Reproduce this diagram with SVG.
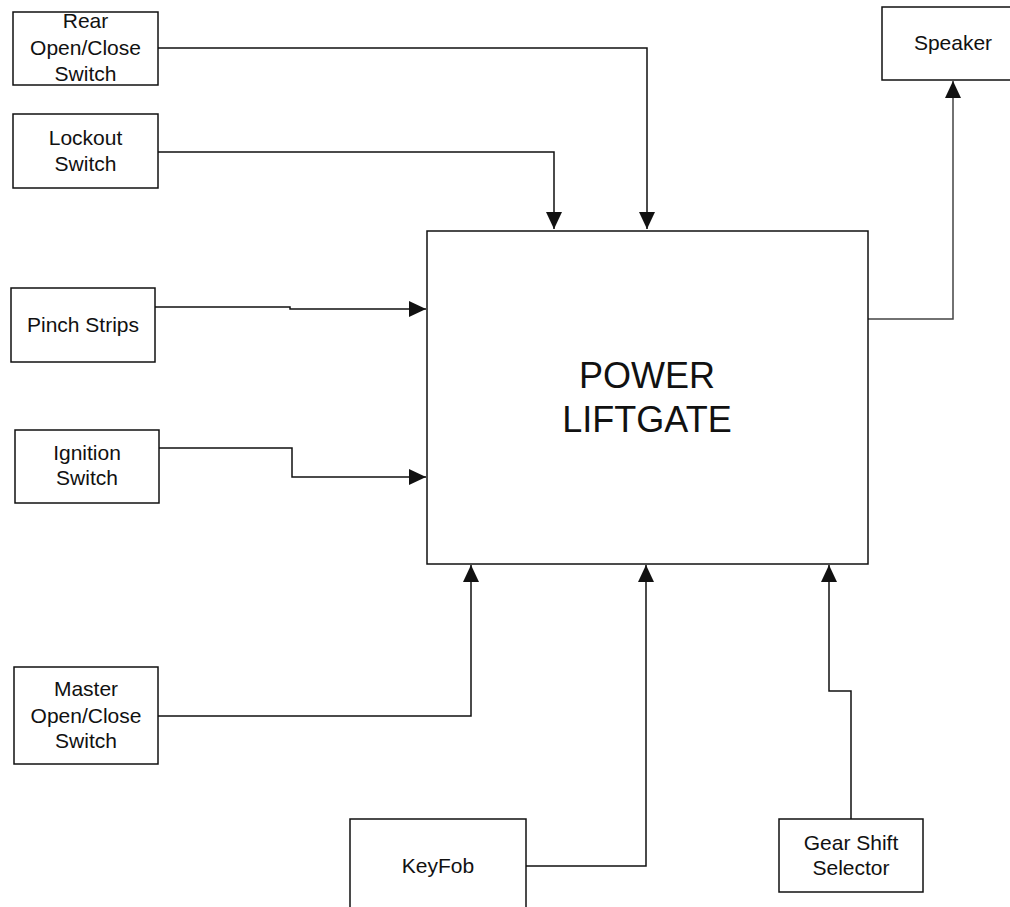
<svg xmlns="http://www.w3.org/2000/svg" width="1010" height="907" viewBox="0 0 1010 907">
<style>
.box{fill:#fff;stroke:#111;stroke-width:1.5}
.t{font-family:"Liberation Sans",Arial,sans-serif;font-size:21px;fill:#111;text-anchor:middle}
.big{font-family:"Liberation Sans",Arial,sans-serif;font-size:36px;fill:#111;text-anchor:middle}
.c{fill:none;stroke:#111;stroke-width:1.5}
</style>
<defs>
<marker id="arr" markerUnits="userSpaceOnUse" markerWidth="18" markerHeight="16" refX="17" refY="8" orient="auto">
<path d="M0,0 L17,8 L0,16 z" fill="#111"/>
</marker>
</defs>
<rect width="1010" height="907" fill="#fff"/>
<g id="connectors">
<polyline class="c" points="158,48 647,48 647,229" marker-end="url(#arr)"/>
<polyline class="c" points="158,152 554,152 554,229" marker-end="url(#arr)"/>
<polyline class="c" points="155,307 290,307 290,309 426,309" marker-end="url(#arr)"/>
<polyline class="c" points="159,448 292,448 292,477 426,477" marker-end="url(#arr)"/>
<polyline class="c" points="158,716 471,716 471,565" marker-end="url(#arr)"/>
<polyline class="c" points="526,866 646,866 646,565" marker-end="url(#arr)"/>
<polyline class="c" points="851,819 851,691 829,691 829,565" marker-end="url(#arr)"/>
<polyline class="c" style="stroke:#444" points="868,319 953,319 953,81" marker-end="url(#arr)"/>
</g>
<g id="rear">
<rect class="box" x="13" y="12" width="145" height="73"/>
<text class="t" x="85.5" y="28">Rear</text>
<text class="t" x="85.5" y="55">Open/Close</text>
<text class="t" x="85.5" y="81">Switch</text>
</g>
<g id="lockout">
<rect class="box" x="13" y="114" width="145" height="74"/>
<text class="t" x="85.5" y="145">Lockout</text>
<text class="t" x="85.5" y="171">Switch</text>
</g>
<g id="pinch">
<rect class="box" x="11" y="288" width="144" height="74"/>
<text class="t" x="83" y="332">Pinch Strips</text>
</g>
<g id="ignition">
<rect class="box" x="15" y="430" width="144" height="73"/>
<text class="t" x="87" y="460">Ignition</text>
<text class="t" x="87" y="485">Switch</text>
</g>
<g id="master">
<rect class="box" x="14" y="667" width="144" height="97"/>
<text class="t" x="86" y="696">Master</text>
<text class="t" x="86" y="723">Open/Close</text>
<text class="t" x="86" y="748">Switch</text>
</g>
<g id="keyfob">
<rect class="box" x="350" y="819" width="176" height="100"/>
<text class="t" x="438" y="873">KeyFob</text>
</g>
<g id="gear">
<rect class="box" x="779" y="819" width="144" height="73"/>
<text class="t" x="851" y="850">Gear Shift</text>
<text class="t" x="851" y="875">Selector</text>
</g>
<g id="speaker">
<rect class="box" x="882" y="7" width="140" height="73"/>
<text class="t" x="953" y="50">Speaker</text>
</g>
<g id="liftgate">
<rect class="box" x="427" y="231" width="441" height="333"/>
<text class="big" x="647" y="388">POWER</text>
<text class="big" x="647" y="432">LIFTGATE</text>
</g>
</svg>
